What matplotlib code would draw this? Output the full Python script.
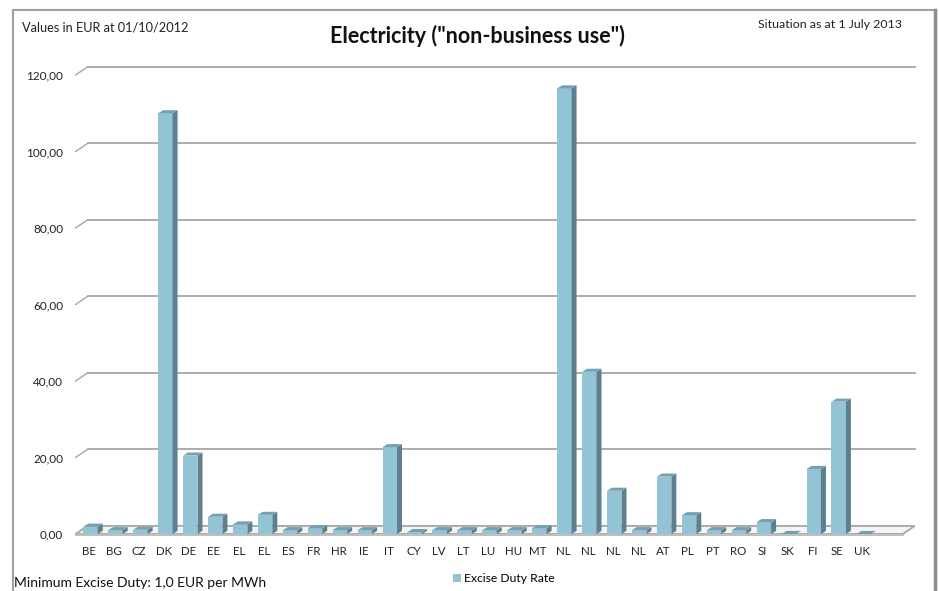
import matplotlib.pyplot as plt
from matplotlib.patches import Polygon
from matplotlib.lines import Line2D
import numpy as np
#
#--data (EUR per MWh)
countries=['BE','BG','CZ','DK','DE','EE','EL','EL','ES','FR','HR','IE','IT','CY','LV','LT',
           'LU','HU','MT','NL','NL','NL','NL','AT','PL','PT','RO','SI','SK','FI','SE','UK']
rates=[1.9,1.0,1.1,110.0,20.5,4.5,2.5,5.0,1.0,1.5,1.0,1.0,22.7,0.5,1.0,1.0,
       1.0,1.0,1.5,116.5,42.4,11.3,1.0,15.0,4.9,1.0,1.0,3.1,0.0,17.0,34.6,0.0]
yticks=[0,20,40,60,80,100,120]
yticklabels=['0,00','20,00','40,00','60,00','80,00','100,00','120,00']
#
plt.rcParams['font.family']=['Lato','DejaVu Sans']
#--colours of the 3D bar faces
c_front='#93C4D6' ; c_side='#5E808E' ; c_top='#76A0B0'
c_grid='#a6a6a6'
#--depth of the walls and of the bars (data units)
gx0=-0.55 ; gdx=0.48 ; gdy=2.1
bw=0.58 ; sx=0.2 ; sy=0.8
#
fig=plt.figure(figsize=(9.39,5.91),dpi=100)
ax=fig.add_axes([74.3/939,(591-537.8)/591,841.7/939,480/591])
n=len(countries)
xs=np.arange(n)
ax.set_xlim(-0.6,33.15)
ax.set_ylim(-1,124.5)
#
#--gridlines on the back wall with little diagonal on the side wall
for v in yticks[1:]:
    ax.plot([gx0,gx0+gdx],[v,v+gdy],color=c_grid,lw=1.0,zorder=1)
    ax.plot([gx0+gdx,33.1],[v+gdy,v+gdy],color=c_grid,lw=1.3,zorder=1)
#--floor
floor=Polygon([(gx0,0),(32.62,0),(33.1,gdy),(gx0+gdx,gdy)],closed=True,
              facecolor='#f4f4f4',edgecolor=c_grid,lw=1.3,zorder=1)
ax.add_patch(floor)
ax.plot([gx0,32.62],[-0.3,-0.3],color='#bfbfbf',lw=1.5,zorder=1)
#
#--bars: front faces from the library, side and top faces on top
bars=ax.bar(xs+0.05,rates,width=bw,color=c_front,zorder=3,label='Excise Duty Rate')
for x,v in zip(xs+0.05,rates):
    xl=x-bw/2 ; xr=x+bw/2
    side=Polygon([(xr,0),(xr+sx,sy),(xr+sx,v+sy),(xr,v)],closed=True,
                 facecolor=c_side,edgecolor='none',zorder=3)
    top=Polygon([(xl,v),(xr,v),(xr+sx,v+sy),(xl+sx,v+sy)],closed=True,
                facecolor=c_top,edgecolor='none',zorder=3)
    ax.add_patch(side) ; ax.add_patch(top)
#
ax.set_xticks(xs)
ax.set_xticklabels(countries,fontsize=8.3,color='#222222')
ax.set_yticks(yticks)
ax.set_yticklabels(yticklabels,fontsize=8.5,color='#222222')
ax.tick_params(axis='x',length=0,pad=6)
ax.tick_params(axis='y',length=0,pad=8)
for s in ax.spines.values():
    s.set_visible(False)
#
#--texts
fig.text(477/939,1-36/591,'Electricity ("non-business use")',ha='center',va='center',
         fontsize=15.5,fontweight='bold',color='#111111')
fig.text(22/939,1-28/591,'Values in EUR at 01/10/2012',ha='left',va='center',fontsize=9.2,color='#222222')
fig.text(902/939,1-25/591,'Situation as at 1 July 2013',ha='right',va='center',fontsize=8.9,color='#222222')
fig.text(14/939,1-583/591,'Minimum Excise Duty: 1,0 EUR per MWh',ha='left',va='center',fontsize=10,color='#111111')
fig.legend(handles=[bars],loc='center',bbox_to_anchor=(504/939,1-579/591),frameon=False,
           fontsize=8.7,handlelength=0.6,handleheight=0.6,handletextpad=0.3)
#
#--chart frame (open at the bottom)
fig.add_artist(Line2D([13/939,13/939],[0,1-10/591],color='#a0a0a0',lw=1.5))
fig.add_artist(Line2D([13/939,935/939],[1-10/591,1-10/591],color='#a0a0a0',lw=1.5))
fig.add_artist(Line2D([935/939,935/939],[0,1-10/591],color='#8c8c8c',lw=2.5))
#
fig.savefig('out.png',dpi=100)
